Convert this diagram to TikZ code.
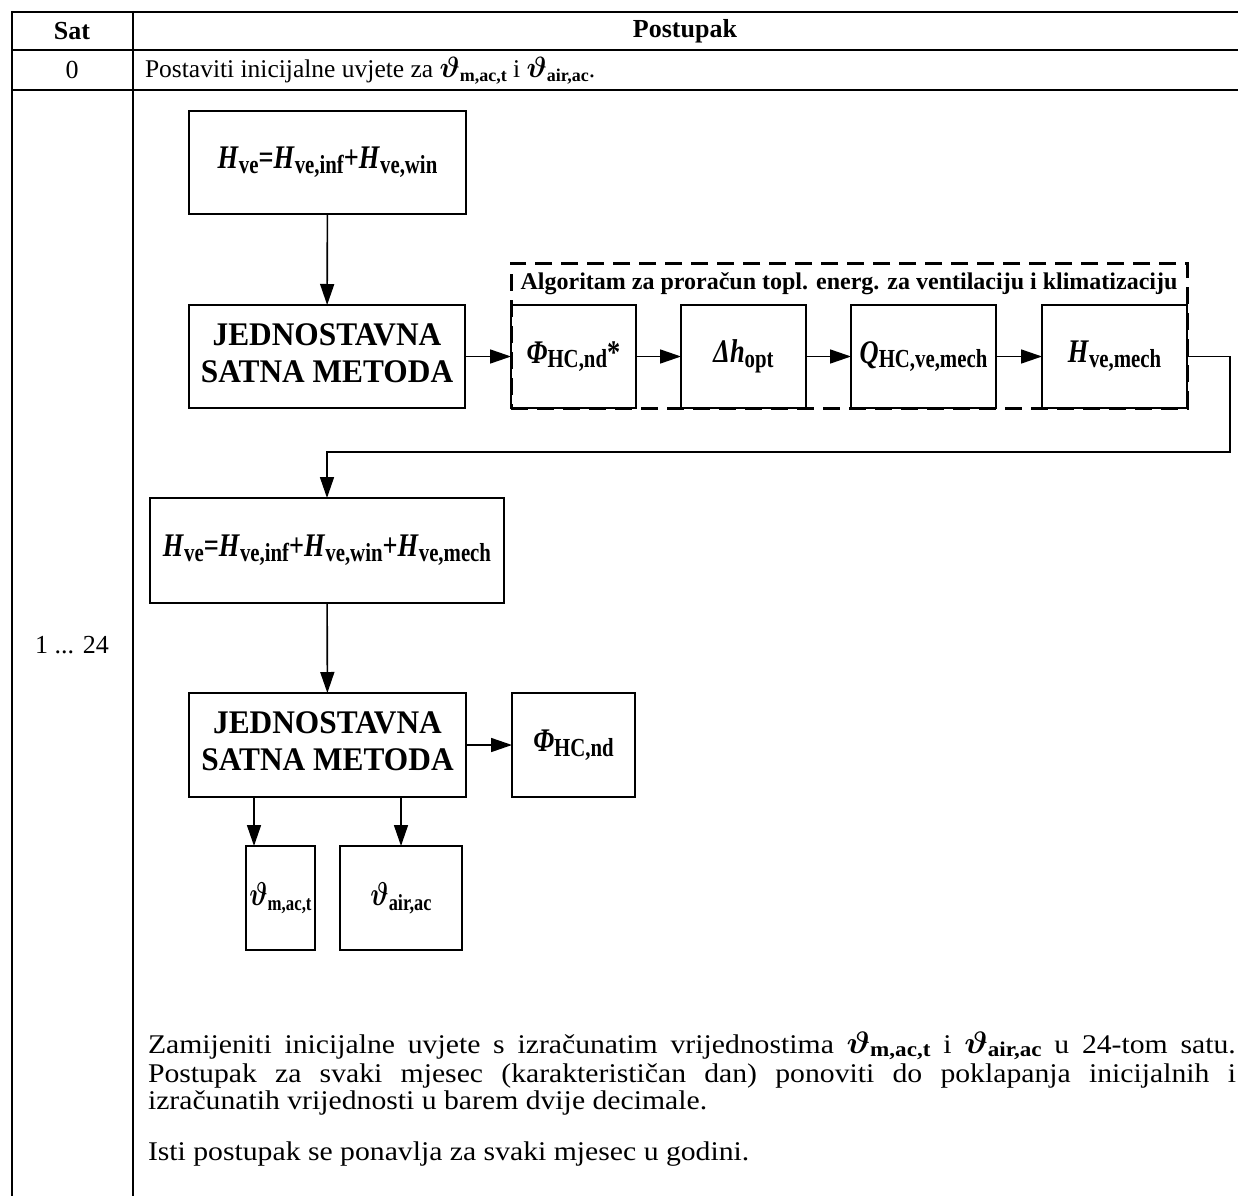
\documentclass[tikz,border=0pt]{standalone}
\usepackage{fix-cm}
\usepackage{amsmath,bm,graphicx}
\usepackage{fontspec}
\setmainfont{Liberation Serif}
\usetikzlibrary{arrows.meta}
\newcommand\sbs[2]{\raisebox{-0.14em}{\fontsize{#1}{#1}\selectfont\bfseries\upshape #2}}
\newcommand\vth{\scalebox{1.15}{$\bm{\vartheta}$}}
\newcommand\HH[1]{\textbf{\textit{H}}\sbs{26}{#1}}
\newcommand\cx[1]{\scalebox{0.8}[1]{#1}}
\newcommand\px[1]{\scalebox{1.1}[1]{#1}}
\begin{document}
\begin{tikzpicture}[x=1pt,y=-1pt,
  every node/.style={inner sep=0pt,outer sep=0pt},
  box/.style={draw,line width=1.6pt,minimum height=103pt,align=center},
  arr/.style={line width=1.6pt,-{Triangle[length=21pt,width=14pt]}},
  tline/.style={line width=2.4pt},
  dbox/.style={draw,line width=3pt,dash pattern=on 17pt off 9pt},
  txt/.style={font=\fontsize{26}{28}\selectfont},
  rtxt/.style={font=\fontsize{25.5}{27}\selectfont},
  ptxt/.style={font=\fontsize{27}{28}\selectfont},
  btxt/.style={font=\fontsize{26}{28}\selectfont\bfseries},
  eqf/.style={font=\fontsize{33}{40}\selectfont\bfseries},
  jsf/.style={font=\fontsize{33}{37}\selectfont\bfseries}]
\useasboundingbox (0,0) rectangle (1238,1196);
% table
\draw[tline] (12,12) -- (1238,12);
\draw[tline] (12,50) -- (1238,50);
\draw[tline] (12,90) -- (1238,90);
\draw[tline] (12,11) -- (12,1196);
\draw[tline] (133,11) -- (133,1196);
\node[btxt] (sat) at (72,31) {Sat};
\node[btxt] (post) at (685,31) {Postupak};
\node[txt] (r0) at (72,70) {0};
\node[rtxt,anchor=base west] (r0t) at (145,78) {Postaviti inicijalne uvjete za \vth\sbs{18}{m,ac,t} i \vth\sbs{18}{air,ac}.};
\node[txt] (r1) at (72,645) {1 ... 24};
% flow
\node[box,eqf,minimum width=277pt] (b1) at (327.5,162.5) {\cx{\HH{ve}=\HH{ve,inf}+\HH{ve,win}}};
\node[box,jsf,minimum width=276pt] (j1) at (327,356.5) {\scalebox{0.95}[1]{\begin{tabular}{@{}c@{}}JEDNOSTAVNA\\SATNA METODA\end{tabular}}};
\node[dbox,minimum width=676pt,minimum height=145pt] (alg) at (849,335.5) {};
\node[font=\fontsize{24}{26}\selectfont\bfseries] (algt) at (849,284) {Algoritam za proračun topl. energ. za ventilaciju i klimatizaciju};
\node[box,eqf,minimum width=125pt] (phi1) at (573.5,356.5) {\cx{\textbf{\textit{Φ}}\sbs{26}{HC,nd}*}};
\node[box,eqf,minimum width=125pt] (dh) at (743.5,356.5) {\cx{\textbf{\textit{Δh}}\sbs{26}{opt}}};
\node[box,eqf,minimum width=145pt] (q) at (923.5,356.5) {\cx{\textbf{\textit{Q}}\sbs{26}{HC,ve,mech}}};
\node[box,eqf,minimum width=145pt] (hm) at (1114.5,356.5) {\cx{\HH{ve,mech}}};
\draw[dbox] (511,408) -- (1187,408);
\coordinate (c1) at (1230,452);
\node[box,eqf,minimum width=354pt,minimum height=105pt] (b2) at (327,550.5) {\cx{\HH{ve}=\HH{ve,inf}+\HH{ve,win}+\HH{ve,mech}}};
\node[box,jsf,minimum width=277pt,minimum height=104pt] (j2) at (327.5,745) {\scalebox{0.95}[1]{\begin{tabular}{@{}c@{}}JEDNOSTAVNA\\SATNA METODA\end{tabular}}};
\node[box,eqf,minimum width=123pt,minimum height=104pt] (phi2) at (573.5,745) {\cx{\textbf{\textit{Φ}}\sbs{26}{HC,nd}}};
\node[box,eqf,minimum width=69pt,minimum height=104pt] (tm) at (280.5,898) {\cx{$\bm{\vartheta}$\sbs{21}{m,ac,t}}};
\node[box,eqf,minimum width=122pt,minimum height=104pt] (ta) at (401,898) {\cx{$\bm{\vartheta}$\sbs{23}{air,ac}}};
\draw[arr] (b1) -- (j1);
\draw[arr] (j1) -- (phi1);
\draw[arr] (phi1) -- (dh);
\draw[arr] (dh) -- (q);
\draw[arr] (q) -- (hm);
\draw[arr] (hm.east) -| (c1) -| (b2.north);
\draw[arr] (b2) -- (j2);
\draw[arr] (j2) -- (phi2);
\draw[arr] (j2.south west) ++(65,0) coordinate (s1) -- (s1 |- tm.north);
\draw[arr] (j2.south -| ta.north) -- (ta.north);
% text
\node[ptxt,anchor=base west] (p1) at (148,1053) {\px{\makebox[989pt][s]{Zamijeniti inicijalne uvjete s izračunatim vrijednostima \vth\sbs{21}{m,ac,t} i \vth\sbs{21}{air,ac} u 24-tom satu.}}};
\node[ptxt,anchor=base west] (p2) at (148,1082) {\px{\makebox[989pt][s]{Postupak za svaki mjesec (karakterističan dan) ponoviti do poklapanja inicijalnih i}}};
\node[ptxt,anchor=base west] (p3) at (148,1109) {\px{izračunatih vrijednosti u barem dvije decimale.}};
\node[ptxt,anchor=base west] (p4) at (148,1160) {\px{Isti postupak se ponavlja za svaki mjesec u godini.}};
\end{tikzpicture}
\end{document}
